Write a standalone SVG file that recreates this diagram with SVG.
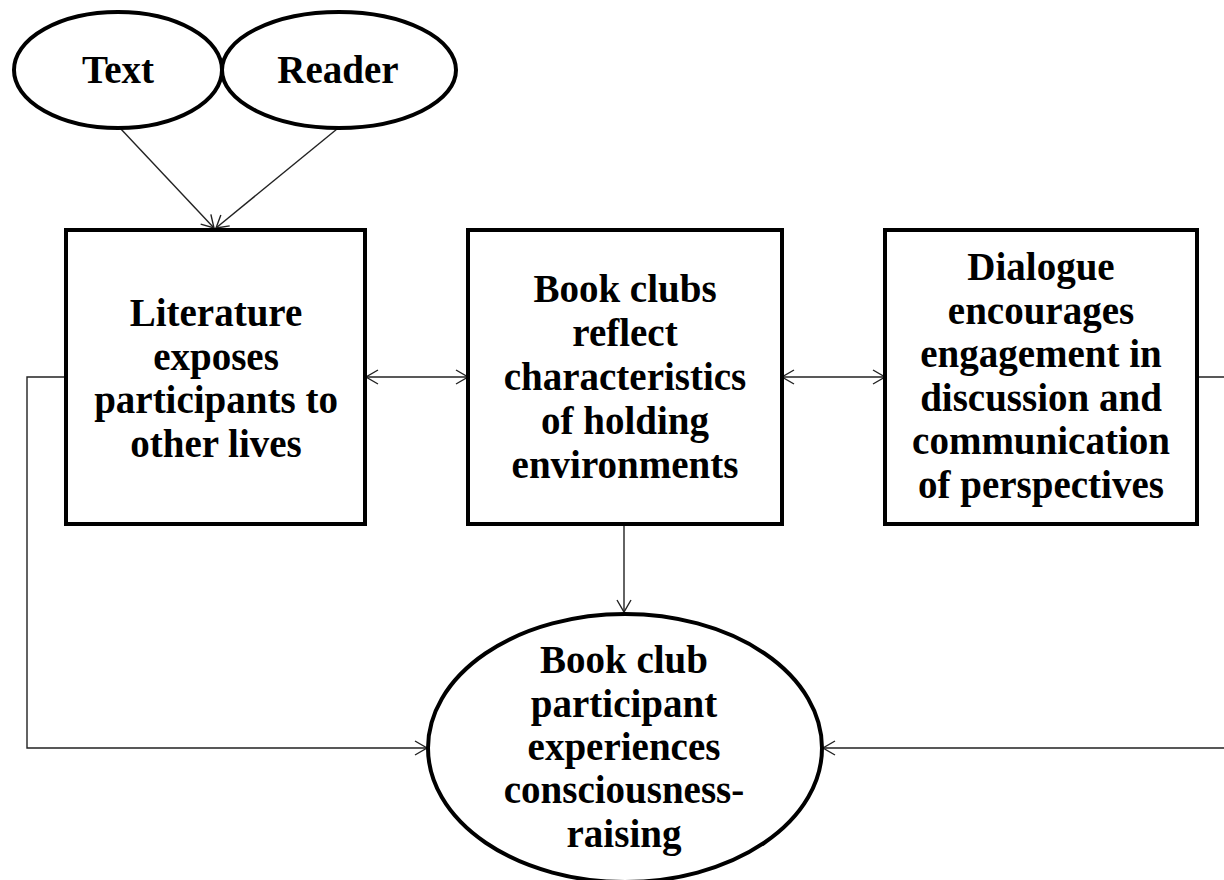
<svg xmlns="http://www.w3.org/2000/svg" width="1224" height="880" viewBox="0 0 1224 880">
<style>
.node{fill:#fff;stroke:#000;stroke-width:4}
.ell{fill:#fff;stroke:#000;stroke-width:4}
.lbl{font-family:"Liberation Serif","Times New Roman",serif;font-weight:bold;font-size:39px;fill:#000;text-anchor:middle}
.con{fill:none;stroke:#222;stroke-width:1.4}
</style>
<defs>
<marker id="arr" markerUnits="userSpaceOnUse" markerWidth="16" markerHeight="18" refX="13" refY="8" orient="auto-start-reverse" viewBox="0 0 16 18">
<path d="M1,1 L13,8 L1,15" fill="none" stroke="#222" stroke-width="1.4"/>
</marker>
</defs>
<rect width="1224" height="880" fill="#fff"/>
<g id="connectors">
<line class="con" x1="120" y1="128" x2="214" y2="228" marker-end="url(#arr)"/>
<line class="con" x1="337" y1="129" x2="216" y2="228" marker-end="url(#arr)"/>
<line class="con" x1="366" y1="377" x2="468" y2="377" marker-start="url(#arr)" marker-end="url(#arr)"/>
<line class="con" x1="782" y1="377" x2="885" y2="377" marker-start="url(#arr)" marker-end="url(#arr)"/>
<line class="con" x1="624" y1="524" x2="624" y2="612" marker-end="url(#arr)"/>
<polyline class="con" points="66,377 27,377 27,748 427,748" marker-end="url(#arr)"/>
<polyline class="con" points="1197,377 1240,377 1240,748 823,748" marker-end="url(#arr)"/>
</g>
<g id="text-node">
<ellipse class="ell" cx="118" cy="70" rx="104" ry="58"/>
<text class="lbl" x="118" y="83">Text</text>
</g>
<g id="reader-node">
<ellipse class="ell" cx="339" cy="70" rx="117" ry="58"/>
<text class="lbl" x="338" y="83">Reader</text>
</g>
<g id="literature-node">
<rect class="node" x="66" y="230" width="299" height="294"/>
<text class="lbl" x="216"><tspan x="216" y="326">Literature</tspan><tspan x="216" y="370">exposes</tspan><tspan x="216" y="413">participants to</tspan><tspan x="216" y="457">other lives</tspan></text>
</g>
<g id="bookclubs-node">
<rect class="node" x="468" y="230" width="314" height="294"/>
<text class="lbl" x="625"><tspan x="625" y="302">Book clubs</tspan><tspan x="625" y="346">reflect</tspan><tspan x="625" y="390">characteristics</tspan><tspan x="625" y="434">of holding</tspan><tspan x="625" y="478">environments</tspan></text>
</g>
<g id="dialogue-node">
<rect class="node" x="885" y="230" width="312" height="294"/>
<text class="lbl" x="1041"><tspan x="1041" y="280">Dialogue</tspan><tspan x="1041" y="324">encourages</tspan><tspan x="1041" y="367">engagement in</tspan><tspan x="1041" y="411">discussion and</tspan><tspan x="1041" y="454">communication</tspan><tspan x="1041" y="498">of perspectives</tspan></text>
</g>
<g id="outcome-node">
<ellipse class="ell" cx="625" cy="748" rx="197" ry="134"/>
<text class="lbl" x="624"><tspan x="624" y="673">Book club</tspan><tspan x="624" y="717">participant</tspan><tspan x="624" y="760">experiences</tspan><tspan x="624" y="803">consciousness-</tspan><tspan x="624" y="847">raising</tspan></text>
</g>
</svg>
